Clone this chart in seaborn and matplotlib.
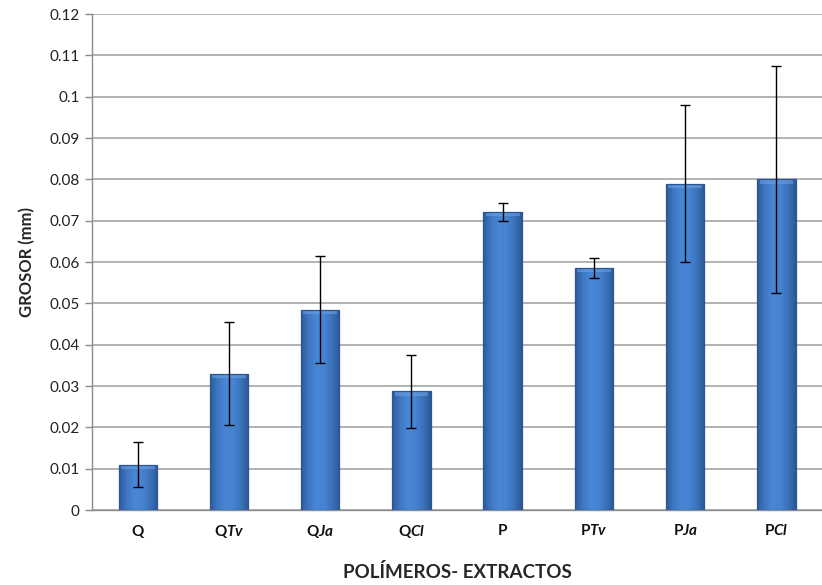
import matplotlib
matplotlib.use("Agg")
import matplotlib.pyplot as plt
from matplotlib.colors import LinearSegmentedColormap
import seaborn as sns
import pandas as pd
import numpy as np

# Film thickness by polymer / extract combination
categories = ["Q", "QTv", "QJa", "QCl", "P", "PTv", "PJa", "PCl"]
tick_labels = [r"$\mathbf{Q}$", r"$\mathbf{Q}\mathbfit{Tv}$", r"$\mathbf{Q}\mathbfit{Ja}$",
               r"$\mathbf{Q}\mathbfit{Cl}$", r"$\mathbf{P}$", r"$\mathbf{P}\mathbfit{Tv}$",
               r"$\mathbf{P}\mathbfit{Ja}$", r"$\mathbf{P}\mathbfit{Cl}$"]
grosor = [0.0110, 0.0330, 0.0485, 0.0287, 0.0722, 0.0586, 0.0790, 0.0800]
desviacion = [0.0055, 0.0125, 0.0130, 0.0088, 0.0022, 0.0024, 0.0190, 0.0275]
y_ticks = [0, 0.01, 0.02, 0.03, 0.04, 0.05, 0.06, 0.07, 0.08, 0.09, 0.1, 0.11, 0.12]
y_tick_labels = ["0", "0.01", "0.02", "0.03", "0.04", "0.05", "0.06", "0.07", "0.08",
                 "0.09", "0.1", "0.11", "0.12"]

sns.set_theme(style="white")
plt.rcParams["font.family"] = ["Lato", "DejaVu Sans"]
plt.rcParams["mathtext.fontset"] = "custom"
plt.rcParams["mathtext.rm"] = "Lato"
plt.rcParams["mathtext.bf"] = "Lato:bold"
plt.rcParams["mathtext.it"] = "Lato:italic"
plt.rcParams["mathtext.bfit"] = "Lato:italic:bold"

df = pd.DataFrame({"muestra": categories, "grosor": grosor})

fig = plt.figure(figsize=(8.22, 5.85), dpi=100)
ax = fig.add_axes([0.112, 0.128, 0.888, 0.848])

sns.barplot(data=df, x="muestra", y="grosor", ax=ax, color="#3f78c6",
            saturation=1, width=0.42, edgecolor="#2b5690", linewidth=0.9,
            errorbar=None, zorder=3)

ax.set_ylim(0, 0.12)
ax.set_xlim(-0.5, len(categories) - 0.5)

# bevelled fill: darker at the sides, lighter in the middle of each bar
bevel = LinearSegmentedColormap.from_list(
    "bevel", ["#2d5c9a", "#3f78c4", "#4886d6", "#4683d2", "#3c73bd", "#2c5994"])
grad = np.linspace(0, 1, 64).reshape(1, -1)
for patch in ax.patches:
    x0, y0 = patch.get_x(), patch.get_y()
    w, h = patch.get_width(), patch.get_height()
    img = ax.imshow(grad, cmap=bevel, aspect="auto", extent=(x0, x0 + w, y0, y0 + h),
                    zorder=3.5, interpolation="bicubic")
    img.set_clip_path(patch)
    # soft light cap at the top of the bar
    ax.fill_between([x0 + w * 0.06, x0 + w * 0.94], y0 + h - 0.0011, y0 + h - 0.0002,
                    color="#6fa3e6", alpha=0.55, zorder=3.6, linewidth=0)
    patch.set_facecolor("none")
    patch.set_zorder(3.7)

ax.errorbar(np.arange(len(categories)), grosor, yerr=desviacion, fmt="none",
            ecolor="black", elinewidth=1.0, capsize=3.5, capthick=1.0, zorder=4)

ax.set_yticks(y_ticks)
ax.set_yticklabels(y_tick_labels, fontsize=11, color="#222222")
ax.set_xticks(np.arange(len(categories)))
ax.set_xticklabels(tick_labels, fontsize=11, color="#111111")
ax.yaxis.grid(True, color="#a6a6a6", linewidth=1.2, zorder=0)
ax.set_axisbelow(True)

for side in ["top", "right"]:
    ax.spines[side].set_visible(False)
for side in ["left", "bottom"]:
    ax.spines[side].set_color("#8c8c8c")
    ax.spines[side].set_linewidth(1.0)

ax.tick_params(axis="y", which="both", left=True, length=5, width=1.0, color="#8c8c8c", pad=4)
ax.tick_params(axis="x", which="both", bottom=False, pad=3)

ax.set_ylabel("GROSOR (mm)", fontsize=12, fontweight="bold", labelpad=10)
ax.set_xlabel("POLÍMEROS- EXTRACTOS", fontsize=13.5, fontweight="bold", labelpad=17)

fig.savefig("out.png", dpi=100)
